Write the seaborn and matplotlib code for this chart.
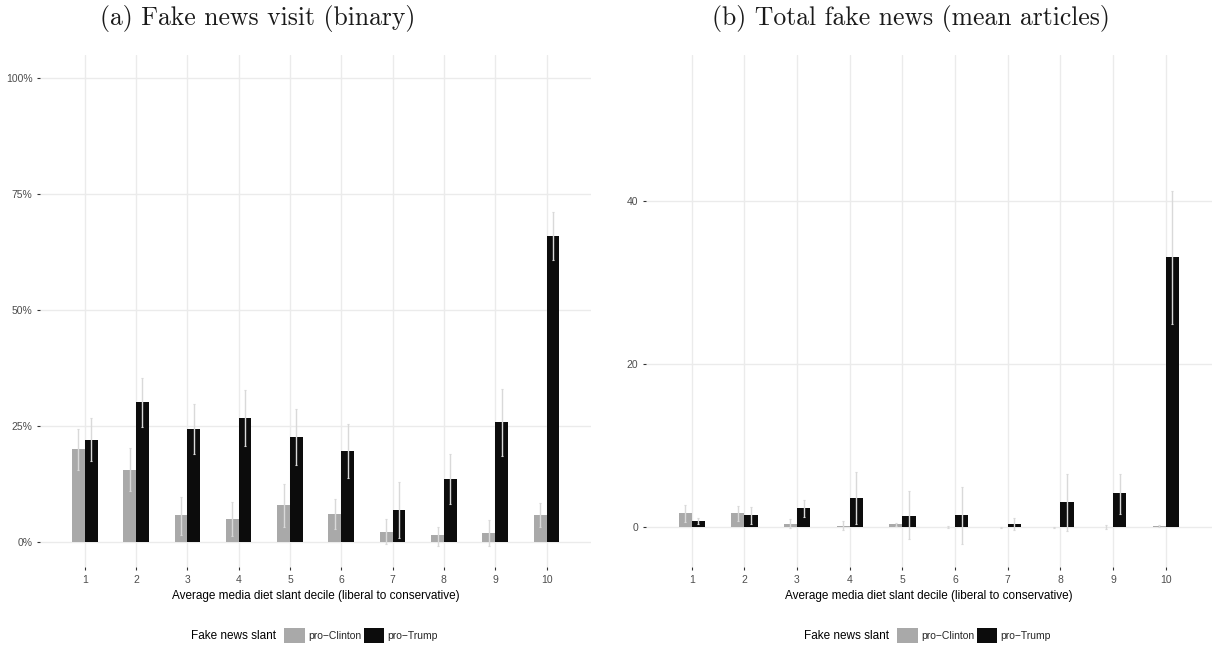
import numpy as np
import pandas as pd
import matplotlib
matplotlib.use("Agg")
import matplotlib.pyplot as plt
import seaborn as sns
from matplotlib.patches import Patch
from matplotlib.ticker import PercentFormatter

# Decile categories and series
deciles = [str(i) for i in range(1, 11)]
slants = ["pro\u2212Clinton", "pro\u2212Trump"]

# (a) share visiting fake news, in percent
clinton_visit = [20.0, 15.5, 5.7, 4.9, 7.8, 6.0, 2.1, 1.3, 1.9, 5.8]
clinton_visit_lo = [15.4, 10.9, 1.4, 1.2, 3.2, 2.7, -0.6, -0.9, -1.0, 3.2]
clinton_visit_hi = [24.2, 20.1, 9.7, 8.5, 12.4, 9.2, 4.9, 3.2, 4.7, 8.3]
trump_visit = [21.9, 30.1, 24.3, 26.6, 22.6, 19.6, 6.9, 13.5, 25.8, 66.0]
trump_visit_lo = [17.3, 24.8, 18.9, 20.6, 16.5, 13.8, 0.7, 8.1, 18.4, 60.8]
trump_visit_hi = [26.6, 35.2, 29.7, 32.6, 28.7, 25.3, 12.8, 18.8, 32.9, 71.1]

# (b) mean fake news articles
clinton_total = [1.74, 1.74, 0.40, 0.16, 0.40, 0.04, 0.03, 0.03, 0.05, 0.15]
clinton_total_lo = [0.70, 0.73, -0.10, -0.36, 0.18, -0.05, -0.02, -0.02, -0.20, 0.05]
clinton_total_hi = [2.70, 2.67, 0.97, 0.80, 0.60, 0.15, 0.10, 0.08, 0.24, 0.25]
trump_total = [0.77, 1.50, 2.35, 3.56, 1.38, 1.50, 0.40, 3.08, 4.17, 33.1]
trump_total_lo = [0.45, 0.45, 1.30, 0.40, -1.46, -2.00, -0.36, -0.40, 1.70, 24.9]
trump_total_hi = [1.17, 2.55, 3.40, 6.84, 4.40, 4.90, 1.20, 6.55, 6.60, 41.2]

colors = {slants[0]: "#a9a9a9", slants[1]: "#0c0c0c"}
sans = ["Liberation Sans", "DejaVu Sans"]

sns.set_theme(style="white")
plt.rcParams["font.family"] = sans


def make_df(clinton, clinton_lo, clinton_hi, trump, trump_lo, trump_hi):
    return pd.DataFrame({
        "decile": deciles * 2,
        "slant": [slants[0]] * 10 + [slants[1]] * 10,
        "value": clinton + trump,
        "lo": clinton_lo + trump_lo,
        "hi": clinton_hi + trump_hi,
    })


def draw_panel(ax, df, ylim, yticks):
    sns.barplot(data=df, x="decile", y="value", hue="slant", order=deciles,
                hue_order=slants, palette=colors, errorbar=None, width=0.5,
                saturation=1, legend=False, linewidth=0, ax=ax, zorder=2)
    # error bars centred on each bar
    for container, s in zip(ax.containers, slants):
        sub = df[df["slant"] == s].set_index("decile").loc[deciles]
        xs = [b.get_x() + b.get_width() / 2 for b in container]
        y = sub["value"].values
        ax.errorbar(xs, y, yerr=[y - sub["lo"].values, sub["hi"].values - y],
                    fmt="none", ecolor="#d9d9d9", elinewidth=1.0, capsize=1,
                    capthick=0.8, zorder=3)
    ax.set_xlim(-0.87, 9.87)
    ax.set_ylim(*ylim)
    ax.set_yticks(yticks)
    ax.grid(True, color="#ebebeb", linewidth=1.0, zorder=0)
    ax.set_axisbelow(True)
    for sp in ax.spines.values():
        sp.set_visible(False)
    ax.tick_params(axis="both", bottom=True, left=True, length=2.5, width=0.8,
                   color="#333333", labelsize=7.5, labelcolor="#4d4d4d", pad=3)
    ax.set_xlabel("Average media diet slant decile (liberal to conservative)",
                  fontsize=8.5, color="black", labelpad=4)
    ax.set_ylabel("")


fig = plt.figure(figsize=(12.14, 6.48), dpi=100)
ax_a = fig.add_axes([0.033, 0.125, 0.454, 0.790])
ax_b = fig.add_axes([0.532, 0.125, 0.466, 0.790])

df_a = make_df(clinton_visit, clinton_visit_lo, clinton_visit_hi,
               trump_visit, trump_visit_lo, trump_visit_hi)
df_b = make_df(clinton_total, clinton_total_lo, clinton_total_hi,
               trump_total, trump_total_lo, trump_total_hi)

draw_panel(ax_a, df_a, (-5.5, 105.0), [0, 25, 50, 75, 100])
ax_a.yaxis.set_major_formatter(PercentFormatter(100, decimals=0))
draw_panel(ax_b, df_b, (-4.85, 57.85), [0, 20, 40])

# titles
fig.text(0.212, 1 - 18 / 648, "(a) Fake news visit (binary)", ha="center",
         va="center", fontsize=18.5, family="cmr10", color="#1a1a1a")
fig.text(0.750, 1 - 18 / 648, "(b) Total fake news (mean articles)", ha="center",
         va="center", fontsize=18.5, family="cmr10", color="#1a1a1a")

# legends below each panel, title on the left
handles = [Patch(facecolor=colors[s], edgecolor="none") for s in slants]
for ax in (ax_a, ax_b):
    pos = ax.get_position()
    cx = (pos.x0 + pos.x1) / 2
    leg = fig.legend(handles, slants, loc="center left", ncol=2,
                     bbox_to_anchor=(cx - 0.030, 0.019), frameon=False,
                     fontsize=7.5, handlelength=2.0, handleheight=1.9,
                     handletextpad=0.3, columnspacing=0.2, borderpad=0)
    fig.text(cx - 0.033, 0.019, "Fake news slant", ha="right", va="center",
             fontsize=8.5, color="black")

fig.savefig("out.png", dpi=100)
